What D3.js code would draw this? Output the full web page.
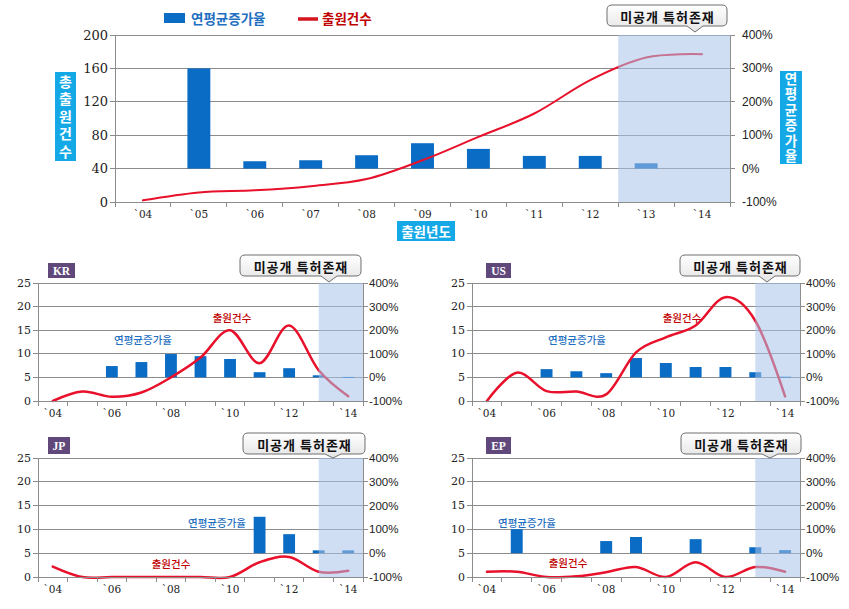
<!DOCTYPE html>
<html><head><meta charset="utf-8">
<script src="https://cdn.jsdelivr.net/npm/d3@7"></script>
<style>html,body{margin:0;padding:0;background:#fff;}svg{display:block;}</style>
</head><body>
<script>
// ---------- DATA ----------
const years = ["`04","`05","`06","`07","`08","`09","`10","`11","`12","`13","`14"];
const evenYears = ["`04","`06","`08","`10","`12","`14"];
const mainLeftTicks = [0, 40, 80, 120, 160, 200];
const mainRightTicks = [-100, 0, 100, 200, 300, 400];
const smallLeftTicks = [0, 5, 10, 15, 20, 25];
const smallRightTicks = [-100, 0, 100, 200, 300, 400];

const totalCounts = [2, 11.5, 14, 19, 27.5, 50, 78, 106, 146, 173, 177];
const totalGrowth = [null, 300, 22, 25, 40, 76, 59, 38, 38, 16, null];

const krCounts = [0, 2, 0.9, 1.8, 5, 9.2, 15, 8, 16, 6.5, 1];
const krGrowth = [null, null, 48, 65, 99, 90, 78, 22, 39, 9, 2];

const usCounts = [0, 6, 2.1, 2, 1.4, 10.3, 13.5, 16, 22, 17, 1];
const usGrowth = [null, null, 35, 26, 18, 82, 61, 44, 44, 22, 3];

const jpCounts = [2.2, 0, 0, 0, 0, 0, 0, 3.1, 4.2, 1.1, 1.3];
const jpGrowth = [null, null, null, null, null, null, null, 153, 80, 12, 12];

const epCounts = [1.1, 1.1, 0, 0.15, 1, 2.1, 0, 3.1, 0, 2.1, 1.1];
const epGrowth = [null, 101, null, null, 51, 68, null, 59, null, 25, 13];

const legendLabels = ["연평균증가율", "출원건수"];
const calloutText = "미공개 특허존재";

// ---------- STYLE ----------
const BAR = "#0a6cc4", LINE = "#e8102a", GRID = "#8c8c8c", AXIS = "#8c8c8c";
const CYAN = "#14a9e6", PURPLE = "#60497a", SHADE = "rgba(168,194,234,0.55)";
const KFONT = "'Noto Sans CJK KR', sans-serif";
const NFONT = "'DejaVu Serif', serif";
const PFONT = "'Liberation Sans', Arial, sans-serif";

const svg = d3.select("body").append("svg").attr("width", 849).attr("height", 609);
const defs = svg.append("defs");
const grad = defs.append("linearGradient").attr("id","cg").attr("x1",0).attr("y1",0).attr("x2",0).attr("y2",1);
grad.append("stop").attr("offset","0%").attr("stop-color","#ffffff");
grad.append("stop").attr("offset","100%").attr("stop-color","#e4e4e4");

function callout(x, y, w, h, px, tipY, fs) {
  const r = 5;
  const p = `M${x+r},${y} H${x+w-r} Q${x+w},${y} ${x+w},${y+r} V${y+h-r} Q${x+w},${y+h} ${x+w-r},${y+h} H${px+8} L${px},${tipY} L${px-8},${y+h} H${x+r} Q${x},${y+h} ${x},${y+h-r} V${y+r} Q${x},${y} ${x+r},${y} Z`;
  svg.append("path").attr("d", p).attr("fill","url(#cg)").attr("stroke","#6f6f6f").attr("stroke-width",1);
  svg.append("text").attr("x", x + w/2 + 0.5).attr("y", y + h/2 + 1).attr("text-anchor","middle")
    .attr("dominant-baseline","central").attr("font-family", KFONT).attr("font-weight", "bold")
    .attr("letter-spacing", 1).attr("font-size", fs).attr("fill","#111").text(calloutText);
}

function verticalBox(x, y, w, h, text, fs, ls) {
  svg.append("rect").attr("x",x).attr("y",y).attr("width",w).attr("height",h).attr("fill",CYAN);
  svg.append("text").attr("x", x + w/2).attr("y", y + h/2 + ls/2)
    .attr("writing-mode","vertical-rl").style("text-orientation","upright")
    .attr("text-anchor","middle").attr("letter-spacing", ls)
    .attr("font-family",KFONT).attr("font-weight","bold").attr("font-size",fs).attr("fill","#fff").text(text);
}

// ---------- generic chart ----------
function drawChart(o) {
  const x = d3.scaleBand().domain(years).range([o.x0, o.x1]);
  const bw = x.bandwidth();
  const yL = d3.scaleLinear().domain(o.leftDomain).range([o.y1, o.y0]);
  const yR = d3.scaleLinear().domain([-100, 400]).range([o.y1, o.y0]);
  const g = svg.append("g");

  g.selectAll(".grid").data(o.leftTicks.slice(1)).join("line")
    .attr("x1", o.x0).attr("x2", o.x1).attr("y1", d => yL(d)).attr("y2", d => yL(d))
    .attr("stroke", GRID).attr("stroke-width", 1).attr("shape-rendering","crispEdges");

  const bwid = bw * o.barFrac;
  g.selectAll(".bar").data(years.map((y, i) => ({y, v: o.growth[i]})).filter(d => d.v !== null)).join("rect")
    .attr("x", d => x(d.y) + (bw - bwid)/2).attr("width", bwid)
    .attr("y", d => yR(d.v)).attr("height", d => Math.max(1, yR(0) - yR(d.v)))
    .attr("fill", BAR);

  const line = d3.line().x((d, i) => x(years[i]) + bw/2).y(d => yL(d)).curve(d3.curveCardinal);
  g.append("path").attr("d", line(o.counts)).attr("fill","none").attr("stroke", LINE)
    .attr("stroke-width", o.lineW).attr("stroke-linecap","round");

  const sx = o.shadeFromCenter ? x("`13") + bw/2 : x("`13");
  g.append("rect").attr("x", sx).attr("y", o.y0).attr("width", o.x1 - sx).attr("height", o.y1 - o.y0)
    .attr("fill", SHADE);

  const ax = svg.append("g").attr("stroke", AXIS).attr("stroke-width",1).attr("shape-rendering","crispEdges");
  ax.append("line").attr("x1",o.x0).attr("x2",o.x0).attr("y1",o.y0).attr("y2",o.y1);
  ax.append("line").attr("x1",o.x1).attr("x2",o.x1).attr("y1",o.y0).attr("y2",o.y1);
  ax.append("line").attr("x1",o.x0).attr("x2",o.x1).attr("y1",o.y1).attr("y2",o.y1);
  o.leftTicks.forEach(t => ax.append("line").attr("x1",o.x0-5).attr("x2",o.x0).attr("y1",yL(t)).attr("y2",yL(t)));
  o.rightTicks.forEach(t => ax.append("line").attr("x1",o.x1).attr("x2",o.x1+5).attr("y1",yR(t)).attr("y2",yR(t)));
  d3.range(years.length + 1).forEach(i => {
    const xx = o.x0 + i * bw;
    ax.append("line").attr("x1",xx).attr("x2",xx).attr("y1",o.y1).attr("y2",o.y1+5);
  });

  o.leftTicks.forEach(t => svg.append("text").attr("x", o.x0 - 7).attr("y", yL(t)).attr("text-anchor","end")
    .attr("dominant-baseline","central").attr("font-family",NFONT).attr("font-size",o.numFs).attr("fill","#222").text(t));
  o.rightTicks.forEach(t => svg.append("text").attr("x", o.x1 + o.rOff).attr("y", yR(t)).attr("text-anchor","start")
    .attr("dominant-baseline","central").attr("font-family",PFONT).attr("font-size",o.pctFs).attr("fill","#222").text(t + "%"));
  o.xLabels.forEach(t => svg.append("text").attr("x", x(t) + bw/2).attr("y", o.y1 + 12).attr("text-anchor","middle")
    .attr("dominant-baseline","central").attr("font-family",NFONT).attr("font-size",o.xFs).attr("fill","#222").text(t));

  return {x, yL, yR};
}

// ---------- MAIN ----------
drawChart({x0:115, x1:730, y0:35, y1:202, leftDomain:[0,200], leftTicks: mainLeftTicks, rightTicks: mainRightTicks,
  counts: totalCounts, growth: totalGrowth, barFrac: 0.41, lineW: 2, shadeFromCenter: false,
  numFs: 13, pctFs: 12, xFs: 10.5, rOff: 12, xLabels: years});

svg.append("rect").attr("x",164).attr("y",13).attr("width",21).attr("height",10).attr("fill",BAR);
svg.append("text").attr("x",191).attr("y",18).attr("dominant-baseline","central").attr("font-family",KFONT)
  .attr("font-weight","bold").attr("font-size",13.5).attr("fill","#1f6fc2").text(legendLabels[0]);
svg.append("line").attr("x1",298).attr("x2",318).attr("y1",19).attr("y2",19).attr("stroke","#d4141e").attr("stroke-width",3.5);
svg.append("text").attr("x",322).attr("y",18).attr("dominant-baseline","central").attr("font-family",KFONT)
  .attr("font-weight","bold").attr("font-size",13.5).attr("fill","#c00000").text(legendLabels[1]);

verticalBox(55, 72, 21, 89, "총출원건수", 14, 3.6);
verticalBox(780, 71, 22, 93, "연평균증가율", 13.5, 2);
svg.append("rect").attr("x",397).attr("y",221).attr("width",58).attr("height",20).attr("fill",CYAN);
svg.append("text").attr("x",426).attr("y",231).attr("text-anchor","middle").attr("dominant-baseline","central")
  .attr("font-family",KFONT).attr("font-weight","bold").attr("font-size",13.5).attr("fill","#fff").text("출원년도");
callout(607, 5, 120, 21, 695, 32, 13);

// ---------- SMALL PANELS ----------
const panels = [
  {name:"KR", counts: krCounts, growth: krGrowth, x0:38, x1:363, y0:283, y1:401,
   badge:[48,263,27,15], call:[240,255,121,21,329,282], lineLbl:[232,317], barLbl:[143,339]},
  {name:"US", counts: usCounts, growth: usGrowth, x0:472, x1:800, y0:283, y1:401,
   badge:[486,263,25,15], call:[680,255,120,21,767,282], lineLbl:[682,317], barLbl:[577,339]},
  {name:"JP", counts: jpCounts, growth: jpGrowth, x0:38, x1:363, y0:458, y1:577,
   badge:[48,437,22,17], call:[243,433,122,21,333,458], lineLbl:[171,563], barLbl:[217,522]},
  {name:"EP", counts: epCounts, growth: epGrowth, x0:472, x1:800, y0:458, y1:577,
   badge:[486,437,25,17], call:[681,433,120,21,770,458], lineLbl:[568,562], barLbl:[527,522]},
];

panels.forEach(p => {
  drawChart({x0:p.x0, x1:p.x1, y0:p.y0, y1:p.y1, leftDomain:[0,25], leftTicks: smallLeftTicks, rightTicks: smallRightTicks,
    counts: p.counts, growth: p.growth, barFrac: 0.4, lineW: 2.5, shadeFromCenter: true,
    numFs: 11, pctFs: 11.5, xFs: 10.5, rOff: 6, xLabels: evenYears});
  const [bx, by, bw, bh] = p.badge;
  svg.append("rect").attr("x",bx).attr("y",by).attr("width",bw).attr("height",bh).attr("fill",PURPLE);
  svg.append("text").attr("x",bx+bw/2).attr("y",by+bh/2+0.5).attr("text-anchor","middle").attr("dominant-baseline","central")
    .attr("font-family","'Liberation Serif', serif").attr("font-weight","bold").attr("font-size",11.5).attr("fill","#fff").text(p.name);
  const c = p.call;
  callout(c[0], c[1], c[2], c[3], c[4], c[5], 13);
  svg.append("text").attr("x",p.lineLbl[0]).attr("y",p.lineLbl[1]).attr("text-anchor","middle").attr("dominant-baseline","central")
    .attr("font-family",KFONT).attr("font-weight",500).attr("font-size",10.5).attr("fill","#c00000").text(legendLabels[1]);
  svg.append("text").attr("x",p.barLbl[0]).attr("y",p.barLbl[1]).attr("text-anchor","middle").attr("dominant-baseline","central")
    .attr("font-family",KFONT).attr("font-weight",500).attr("font-size",10.5).attr("fill","#1f6fc2").text(legendLabels[0]);
});
</script>
</body></html>
